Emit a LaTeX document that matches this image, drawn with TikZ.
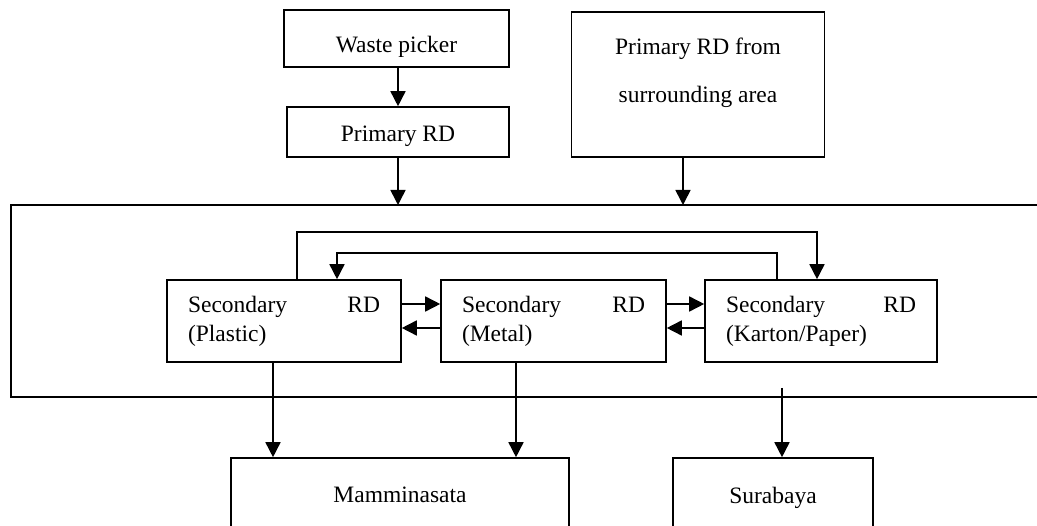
\documentclass[tikz,border=0pt]{standalone}
\usepackage{fontspec}
\setmainfont{Liberation Serif}
\usetikzlibrary{arrows.meta}
\begin{document}
\begin{tikzpicture}[x=1pt,y=-1pt,
  line width=1.6pt,
  font=\fontsize{23.5}{29}\selectfont,
  box/.style={draw, rectangle, inner sep=0pt},
  sec/.style={draw, rectangle, inner xsep=21pt, inner ysep=0pt,
              minimum height=82pt, align=left},
  arr/.style={-{Triangle[length=15pt,width=15pt]}}
]
\useasboundingbox (0,0) rectangle (1037,526);

% upper sources
\node[box, minimum width=225pt, minimum height=57pt,
      text height=34pt, text depth=5pt] (wp) at (396.5,38.5) {Waste picker};
\node[box, minimum width=222pt, minimum height=50pt,
      text height=25pt, text depth=5pt] (p1) at (398,132) {Primary RD};
\node[box, minimum width=253pt, minimum height=145pt] (sa) at (698,84.5) {};
\node[anchor=base] (sat1) at (698,55) {Primary RD from};
\node[anchor=base] (sat2) at (698,103) {surrounding area};

% open frame around the secondary dealers
\coordinate (ftl) at (11,205);
\coordinate (fbl) at (11,397);
\coordinate (ftr) at (1037,205);
\coordinate (fbr) at (1037,397);
\draw (ftr) -- (ftl) -- (fbl) -- (fbr);

% secondary dealers
\node[sec, text width=192pt] (pl) at (284,321)
  {\makebox[192pt][s]{Secondary\hfill RD}\\(Plastic)};
\node[sec, text width=183pt] (me) at (553.5,321)
  {\makebox[183pt][s]{Secondary\hfill RD}\\(Metal)};
\node[sec, text width=190pt] (ka) at (821,321)
  {\makebox[190pt][s]{Secondary\hfill RD}\\(Karton/Paper)};

% destinations
\node[box, minimum width=338pt, minimum height=74pt, text depth=0pt] (mam) at (400,495) {Mamminasata};
\node[box, minimum width=200pt, minimum height=74pt, text depth=0pt] (sur) at (773,495) {Surabaya};

% flows into the frame
\draw[arr] (wp.south -| p1.north) -- (p1.north);
\draw[arr] (p1.south) -- (p1.south |- ftl);
\draw[arr] (683,0 |- sa.south) -- (683,0 |- ftl);

% exchanges between secondary dealers
\draw[arr] (pl.east |- 0,304) -- (me.west |- 0,304);
\draw[arr] (me.west |- 0,328) -- (pl.east |- 0,328);
\draw[arr] (me.east |- 0,304) -- (ka.west |- 0,304);
\draw[arr] (ka.west |- 0,328) -- (me.east |- 0,328);
\draw[arr] (297,0 |- pl.north) -- (297,232) -- (817,232) -- (817,0 |- ka.north);
\draw[arr] (777,0 |- ka.north) -- (777,253) -- (337,253) -- (337,0 |- pl.north);

% flows out to the cities
\coordinate (kout) at (782,388);
\draw[arr] (273,0 |- pl.south) -- (273,0 |- mam.north);
\draw[arr] (516,0 |- me.south) -- (516,0 |- mam.north);
\draw[arr] (kout) -- (kout |- sur.north);
\end{tikzpicture}
\end{document}
